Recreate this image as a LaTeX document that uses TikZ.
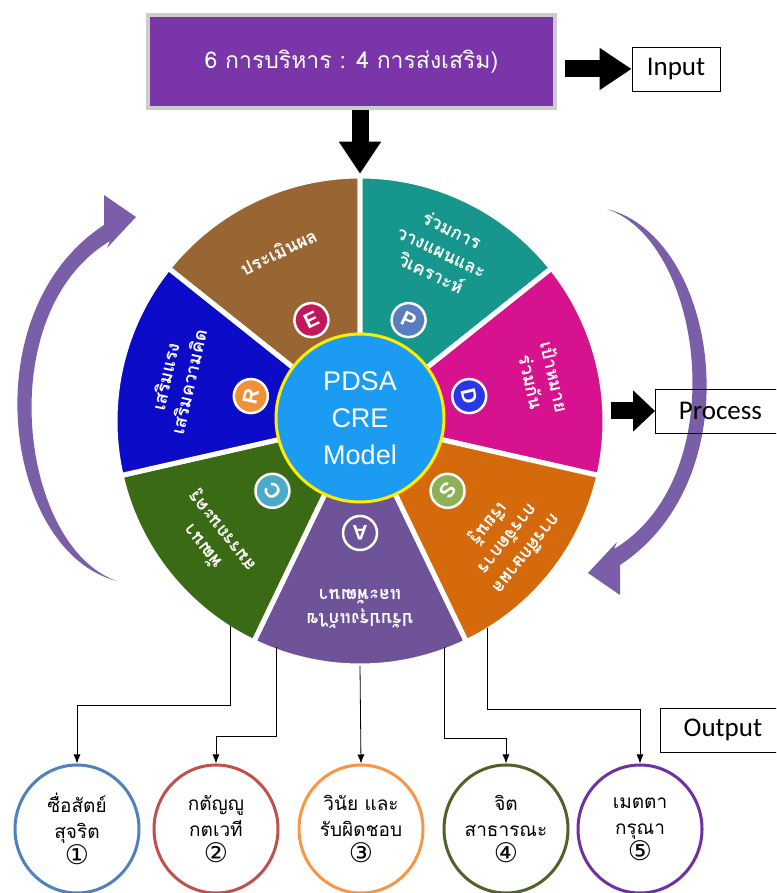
\documentclass[tikz,border=0pt]{standalone}
\usepackage{fontspec}
\setmainfont{Carlito}
\newfontfamily\thaifont[Script=Thai]{Loma}
\newfontfamily\circfont{DejaVu Sans}
\newfontfamily\headfont{Liberation Sans}
\usetikzlibrary{shapes.geometric, arrows.meta, positioning, calc}

\definecolor{boxpurple}{HTML}{7A35A9}
\definecolor{cyclecol}{HTML}{7A5EA8}
\definecolor{corecol}{HTML}{1B9CF2}
\definecolor{secE}{HTML}{996633}
\definecolor{secP}{HTML}{16968C}
\definecolor{secD}{HTML}{D6128F}
\definecolor{secS}{HTML}{D46A0C}
\definecolor{secA}{HTML}{6E5399}
\definecolor{secC}{HTML}{3A6A14}
\definecolor{secR}{HTML}{0B0BC8}
\definecolor{bdgE}{HTML}{C2185B}
\definecolor{bdgP}{HTML}{5A7DC0}
\definecolor{bdgD}{HTML}{2B36E6}
\definecolor{bdgS}{HTML}{8DB255}
\definecolor{bdgA}{HTML}{6E5399}
\definecolor{bdgC}{HTML}{4BAAC8}
\definecolor{bdgR}{HTML}{F0913A}
\definecolor{valA}{HTML}{4F81BD}
\definecolor{valB}{HTML}{C0504D}
\definecolor{valC}{HTML}{F79646}
\definecolor{valD}{HTML}{4F6228}
\definecolor{valE}{HTML}{7030A0}

\newcommand\numtag[1]{{\circfont\fontsize{27}{27}\selectfont #1}}

\begin{document}
\begin{tikzpicture}[
    x=1pt, y=1pt,
    % Wheel sector style
    sector/.style={draw=white, line width=5pt},
    % Letter badge on each sector
    badge/.style={circle, draw=white, line width=2.5pt, minimum size=34pt, inner sep=0pt, text=white, font=\headfont\bfseries\fontsize{21}{21}\selectfont},
    % Sector label
    segtxt/.style={text=white, align=center, font=\thaifont\bfseries\fontsize{18}{24}\selectfont},
    % Input / Process / Output tags
    tag/.style={draw=black, line width=0.8pt, inner sep=0pt, minimum height=44pt, font=\fontsize{27}{27}\selectfont},
    % Value ellipses
    value/.style={ellipse, line width=3pt, minimum width=124pt, minimum height=128pt, inner sep=0pt, align=center, font=\thaifont\fontsize{19}{26}\selectfont},
    % Thin connector
    conn/.style={-{Latex[length=9pt,width=7pt]}, line width=0.8pt},
    % Fat black block arrow
    blk/.style={line width=17pt, -{Triangle[length=32pt,width=40pt]}},
    cycle/.style={fill=cyclecol}
]
\useasboundingbox (0,0) rectangle (776,893);
\clip (0,0) rectangle (776,893);

% ================= Input =================
\node[draw=black!20, line width=3.5pt, fill=boxpurple, minimum width=407pt, minimum height=93pt,
      text=white, font=\thaifont\fontsize{23}{23}\selectfont] (mgmt) at (351.5,831.5) {6 การบริหาร : 4 การส่งเสริม)};
\node[tag, minimum width=88pt] (inp) at (676,824) {Input};
\draw[blk] (mgmt.east |- inp) ++(8,0) -- (inp.west);

% ================= Wheel =================
\coordinate (W) at (360,472);
\foreach \s/\col/\lab/\txt in {
    90/E/E/{ประเมินผล},
    38.57/P/P/{ร่วมการ\\วางแผนและ\\วิเคราะห์},
    347.14/D/D/{เป้าหมาย\\ร่วมกัน},
    295.71/S/S/{การศึกษาผล\\การจัดการ\\เรียนรู้},
    244.29/A/A/{ปรับปรุงแก้ไข\\และพัฒนา},
    192.86/C/C/{พัฒนา\\สมรรถนะครู},
    141.43/R/R/{เสริมแรง\\เสริมความคิด}}
{
  \pgfmathsetmacro\m{\s+25.714}
  \pgfmathsetmacro\e{\s+51.43}
  \fill[sec\col, sector] (W) -- ++(\s:245) arc[start angle=\s, end angle=\e, radius=245] -- cycle;
  \node[badge, fill=bdg\col, rotate=\m-90] (b\lab) at ($(W)+(\m:112)$) {\lab};
  \node[segtxt, rotate=\m-90] (t\lab) at ($(W)+(\m:188)$) {\txt};
}
\node[circle, fill=corecol, draw=yellow!95!orange, line width=3pt, minimum size=168pt, text=white,
      align=center, font=\headfont\fontsize{27}{37}\selectfont] (core) at (360,475) {PDSA\\CRE\\Model};

\draw[blk] (mgmt.south -| W) -- ++(0,-64);

% Cycle arrows
\fill[cycle] (117,312) .. controls (5,340) and (-30,580) .. (104,668)
  -- (104,698) -- (136,676) -- (107,645) -- (110,652)
  .. controls (-10,580) and (20,345) .. (117,312) -- cycle;
\begin{scope}[rotate around={180:(362,498)}]
\fill[cycle] (117,312) .. controls (5,340) and (-30,580) .. (104,668)
  -- (104,698) -- (136,676) -- (107,645) -- (110,652)
  .. controls (-10,580) and (20,345) .. (117,312) -- cycle;
\end{scope}

% ================= Process =================
\node[tag, anchor=west, minimum width=130pt] (proc) at (655,482) {Process};
\coordinate (pa) at (611,482);
\draw[line width=17pt, -{Triangle[length=22pt,width=40pt]}] (pa) -- (proc.west);

% ================= Output =================
\node[tag, anchor=west, minimum width=125pt] (outp) at (660,163) {Output};

\node[value, draw=valA] (v1) at (77,64) {ซื่อสัตย์\\สุจริต\\\numtag{①}};
\node[value, draw=valB] (v2) at (216,64) {กตัญญู\\กตเวที\\\numtag{②}};
\node[value, draw=valC] (v3) at (361,64) {วินัย และ\\รับผิดชอบ\\\numtag{③}};
\node[value, draw=valD] (v4) at (506,64) {จิต\\สาธารณะ\\\numtag{④}};
\node[value, draw=valE] (v5) at (640,64) {เมตตา\\กรุณา\\\numtag{⑤}};

\coordinate (t1) at ($(W)+(237.7:243)$);
\coordinate (t2) at ($(W)+(249.8:241)$);
\coordinate (t3) at ($(W)+(270:245)$);
\coordinate (t4) at ($(W)+(290.4:241)$);
\coordinate (t5) at ($(W)+(301.7:243)$);

\draw[conn] (t1) |- (v1.north |- 0,188) -- (v1.north);
\draw[conn] (t2) |- (v2.north |- 0,157) -- (v2.north);
\draw[conn] (t3) -- (v3.north);
\draw[conn] (t4) |- (v4.north |- 0,155) -- (v4.north);
\draw[conn] (t5) |- (v5.north |- 0,184) -- (v5.north);

\end{tikzpicture}
\end{document}
